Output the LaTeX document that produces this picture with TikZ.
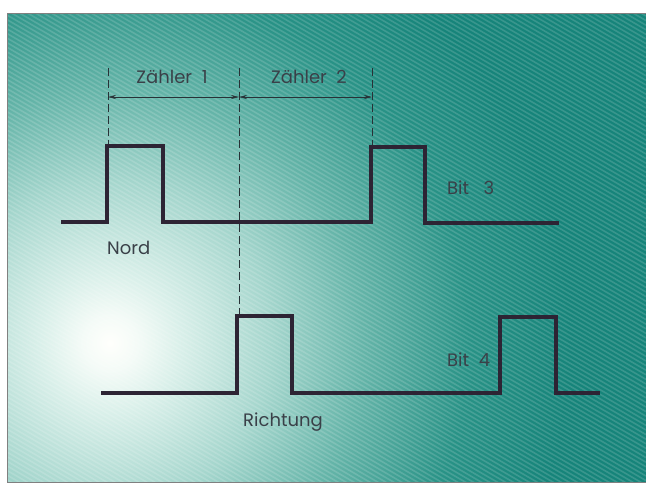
\documentclass[tikz,border=0pt]{standalone}
\usepackage{fontspec}
\setmainfont{Poppins}
\usetikzlibrary{arrows.meta}
\definecolor{tealbg}{RGB}{22,132,122}
\definecolor{gA}{RGB}{255,255,252}
\definecolor{gB}{RGB}{244,251,247}
\definecolor{gC}{RGB}{218,240,234}
\definecolor{gD}{RGB}{165,214,205}
\definecolor{gE}{RGB}{100,180,168}
\definecolor{gF}{RGB}{40,146,134}
\definecolor{sig}{RGB}{45,36,52}
\definecolor{txt}{RGB}{58,64,72}
\definecolor{thin}{RGB}{40,50,55}
\pgfdeclareradialshading{glow}{\pgfpoint{0bp}{0bp}}{%
 color(0bp)=(gA); color(1.5bp)=(gB); color(3.75bp)=(gC); color(8.75bp)=(gD);
 color(13.75bp)=(gE); color(19.5bp)=(gF); color(25bp)=(tealbg); color(50bp)=(tealbg)}
\tikzset{
  signal/.style={draw=sig, line width=4pt, line join=miter, line cap=rect},
  guide/.style={draw=thin, line width=0.7pt, dash pattern=on 8pt off 4pt},
  dim/.style={draw=thin, line width=0.6pt, {Stealth[length=8pt,width=4pt]}-{Stealth[length=8pt,width=4pt]}},
  lbl/.style={text=txt, font=\fontsize{18}{21}\selectfont, inner sep=0pt},
  stripe/.style={draw=white, opacity=0.15, line width=1.6pt}
}
\begin{document}
\begin{tikzpicture}[x=1pt, y=-1pt]
\useasboundingbox (0,0) rectangle (646,485);
\fill[white] (0,0) rectangle (646,485);
% background panel
\fill[tealbg] (7,13) rectangle (646,482);
\begin{scope}
  \clip (7,13) rectangle (646,482);
  \shade[shading=glow] (110,343) circle (460pt);
  \foreach \c in {-380,-375.4,...,490} {
    \draw[stripe] (0,\c) -- (646,\c+373);
  }
\end{scope}
\draw[gray, line width=0.8pt] (646,13) -- (7,13) -- (7,482) -- (646,482);

% guide coordinates
\coordinate (g1t) at (108,68);
\coordinate (g1b) at (108,146);
\coordinate (g2t) at (239,68);
\coordinate (g2b) at (239,316);
\coordinate (g3t) at (372,68);
\coordinate (g3b) at (372,147);
\coordinate (a1) at (108,97);
\coordinate (a2) at (239,97);
\coordinate (a3) at (372,97);

\draw[guide] (g1t) -- (g1b);
\draw[guide] (g2t) -- (g2b);
\draw[guide] (g3t) -- (g3b);
\draw[dim] (a1) -- (a2);
\draw[dim] (a2) -- (a3);

% signals
\draw[signal] (63,222) -- (107,222) -- (107,146) -- (163,146) -- (163,222)
  -- (371,222) -- (371,147) -- (425,147) -- (425,223) -- (557,223);
\draw[signal] (103,393) -- (237,393) -- (237,316) -- (292,316) -- (292,393)
  -- (500,393) -- (500,317) -- (556,317) -- (556,393) -- (598,393);

% labels
\node[lbl] (z1) at (172,77) {Zähler\ \ 1};
\node[lbl] (z2) at (309,77) {Zähler\ \ 2};
\node[lbl, anchor=west] (nord) at (107,248) {Nord};
\node[lbl, anchor=west] (b3) at (447,188) {Bit\ \ \ 3};
\node[lbl, anchor=west] (b4) at (447,360) {Bit\ \ 4};
\node[lbl, anchor=west] (ri) at (243,422) {Richtung};
\end{tikzpicture}
\end{document}
